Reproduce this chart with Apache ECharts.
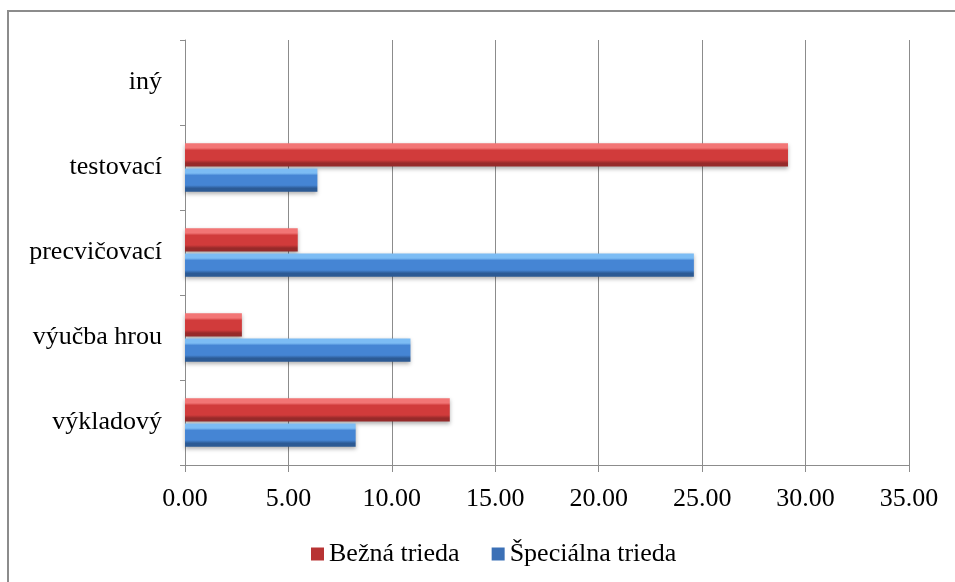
<!DOCTYPE html>
<html>
<head>
<meta charset="utf-8">
<script src="https://cdn.jsdelivr.net/npm/echarts@6/dist/echarts.min.js"></script>
<style>
  html, body { margin: 0; padding: 0; background: #fff; }
  #chart { width: 955px; height: 582px; }
</style>
</head>
<body>
<div id="chart"></div>
<script>
// Teaching methods by class type (percent)
const categories = ['výkladový', 'výučba hrou', 'precvičovací', 'testovací', 'iný'];
const bezna = [12.8, 2.75, 5.45, 29.15, 0];
const specialna = [8.25, 10.9, 24.6, 6.4, 0];
const seriesNames = ['Bežná trieda', 'Špeciálna trieda'];

const FONT = '"Liberation Serif", "Times New Roman", serif';

// vertical gradient giving a bevelled look: light top edge, dark bottom edge
function bevel(light, mid, dark) {
  return {
    type: 'linear', x: 0, y: 0, x2: 0, y2: 1,
    colorStops: [
      { offset: 0, color: light },
      { offset: 0.2, color: light },
      { offset: 0.3, color: mid },
      { offset: 0.72, color: mid },
      { offset: 0.85, color: dark },
      { offset: 1, color: dark }
    ]
  };
}

const redFill = bevel('#f27575', '#d13b3b', '#962a2a');
const blueFill = bevel('#7cbcf4', '#4585d4', '#2c5a94');

const chart = echarts.init(document.getElementById('chart'), null, { renderer: 'canvas' });

chart.setOption({
  animation: false,
  backgroundColor: '#ffffff',
  graphic: [{
    type: 'rect',
    shape: { x: 8, y: 11, width: 960, height: 600 },
    style: { fill: 'none', stroke: '#8c8c8c', lineWidth: 2 },
    silent: true
  }],
  grid: { left: 185, right: 46, top: 40, bottom: 117 },
  legend: {
    data: [
      { name: seriesNames[0], itemStyle: { color: '#b83434' } },
      { name: seriesNames[1], itemStyle: { color: '#3b70b6' } }
    ],
    top: 536,
    left: 306,
    icon: 'rect',
    itemWidth: 13,
    itemHeight: 13,
    itemGap: 32,
    textStyle: { fontFamily: FONT, fontSize: 26, color: '#000' }
  },
  xAxis: {
    type: 'value',
    min: 0,
    max: 35,
    interval: 5,
    axisLine: { show: true, lineStyle: { color: '#8c8c8c', width: 1 } },
    axisTick: { show: true, length: 7, lineStyle: { color: '#8c8c8c' } },
    axisLabel: {
      margin: 21,
      fontFamily: FONT, fontSize: 26, color: '#000',
      formatter: v => v.toFixed(2)
    },
    splitLine: { show: true, lineStyle: { color: '#8c8c8c', width: 1 } }
  },
  yAxis: {
    type: 'category',
    data: categories,
    axisLine: { show: true, lineStyle: { color: '#8c8c8c', width: 1 } },
    axisTick: { show: true, length: 5, lineStyle: { color: '#8c8c8c' } },
    axisLabel: { margin: 23, fontFamily: FONT, fontSize: 26, color: '#000' },
    splitLine: { show: false }
  },
  series: [
    {
      name: seriesNames[0],
      type: 'bar',
      data: bezna,
      barGap: '8%',
      barCategoryGap: '43%',
      itemStyle: {
        color: redFill,
        shadowColor: 'rgba(0,0,0,0.3)',
        shadowBlur: 4,
        shadowOffsetY: 2
      }
    },
    {
      name: seriesNames[1],
      type: 'bar',
      data: specialna,
      itemStyle: {
        color: blueFill,
        shadowColor: 'rgba(0,0,0,0.3)',
        shadowBlur: 4,
        shadowOffsetY: 2
      }
    }
  ]
});
</script>
</body>
</html>
